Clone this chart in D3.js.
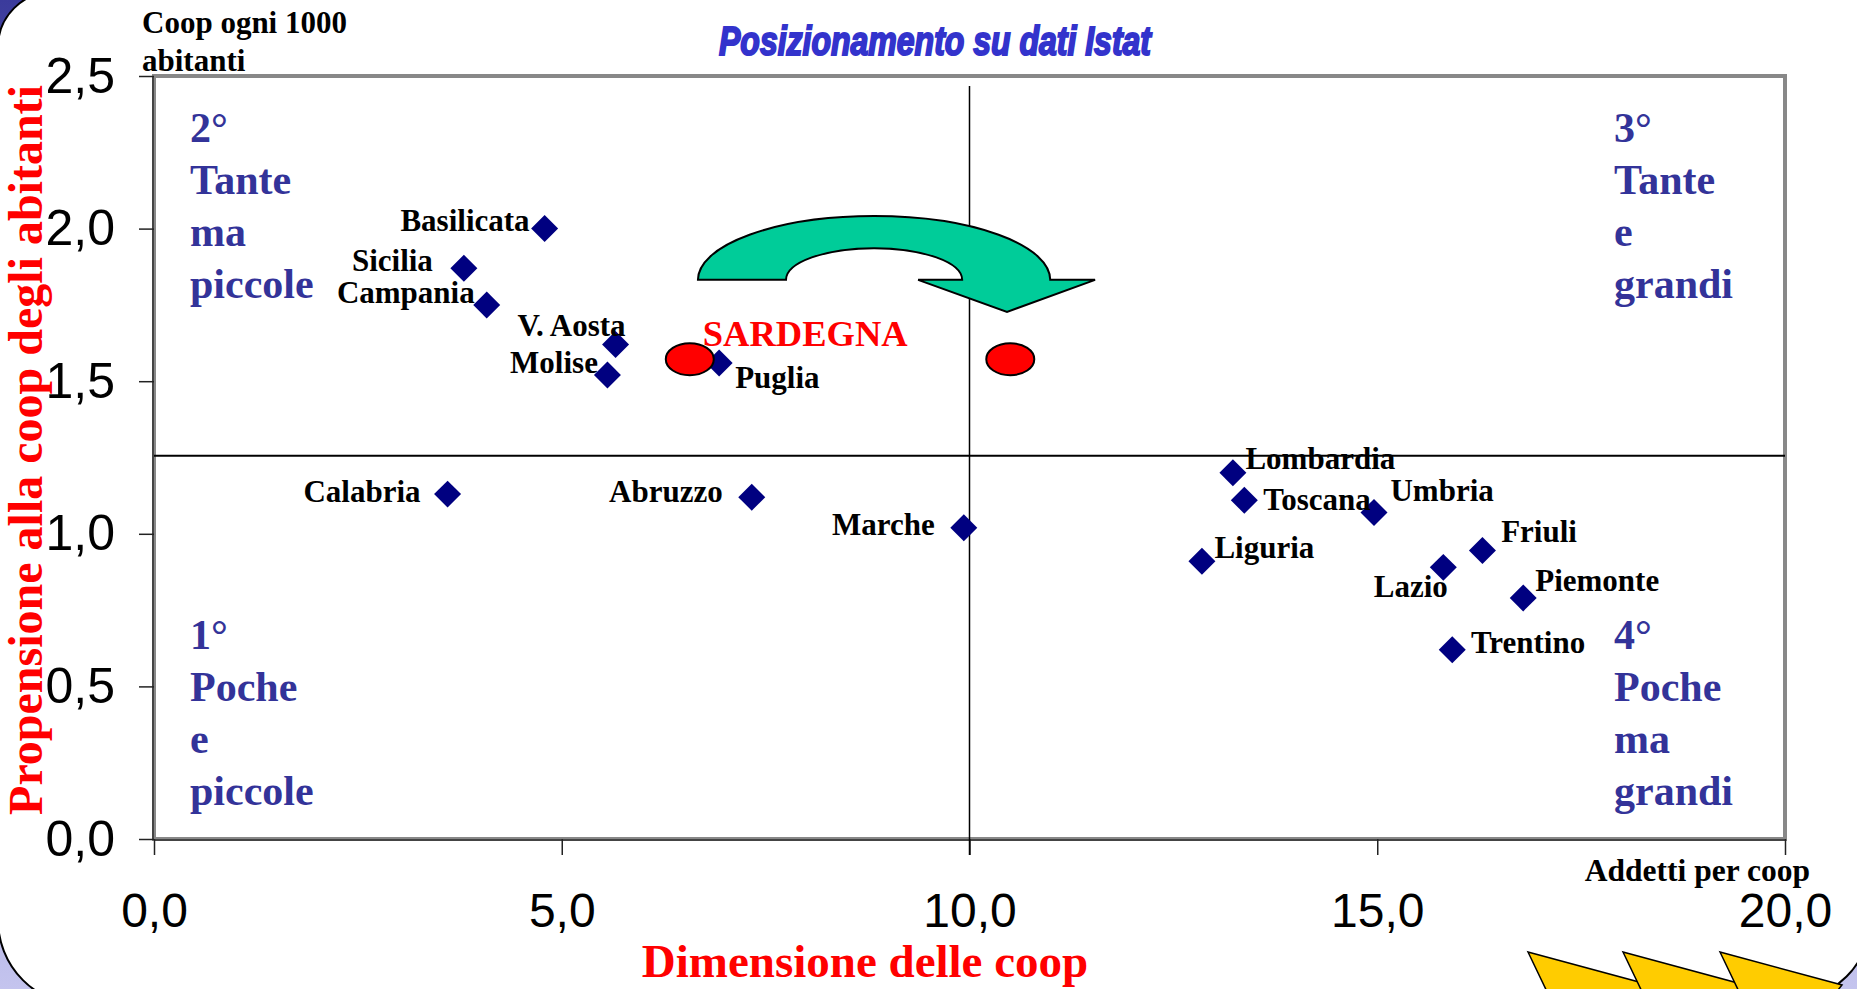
<!DOCTYPE html>
<html><head><meta charset="utf-8">
<script src="https://cdn.jsdelivr.net/npm/d3@7"></script>
<style>body{margin:0;background:#fff;overflow:hidden}</style>
</head><body><svg id="c" width="1857" height="989"></svg>
<script>
// ---- data ----
const regions = ["Basilicata","Sicilia","Campania","V. Aosta","Molise","Puglia","Calabria","Abruzzo","Marche","Lombardia","Toscana","Umbria","Liguria","Lazio","Friuli","Piemonte","Trentino"];
const addettiPerCoop = [4.79,3.80,4.08,5.66,5.56,6.93,3.60,7.33,9.93,13.23,13.37,14.96,12.85,15.81,16.29,16.79,15.92];
const coopPer1000 = [2.00,1.87,1.75,1.62,1.52,1.56,1.13,1.12,1.02,1.20,1.11,1.07,0.91,0.89,0.945,0.79,0.62];
const xTicks = [0,5,10,15,20];
const yTicks = [0,0.5,1,1.5,2,2.5];
const crossX = 10.0, crossY = 1.256;
const sardegnaNow = [6.57,1.572];
const sardegnaTarget = [10.5,1.572];
const quadrants = [
  {lines:["2°","Tante","ma","piccole"], pos:"tl"},
  {lines:["3°","Tante","e","grandi"], pos:"tr"},
  {lines:["1°","Poche","e","piccole"], pos:"bl"},
  {lines:["4°","Poche","ma","grandi"], pos:"br"}
];
// label placement (layout, not data)
const labelAnchor = ["end","end","end","end","end","start","end","end","end","start","start","start","start","end","start","start","start"];
const labelDx = [-15,-31,-12,10,-9.5,16,-27,-29,-29,12.5,19,16.5,12.5,4.5,18.7,12,18.7];
const labelDy = [2,3,-2,-9,-2,25,8,5,7,-4,10,-11,-3,30,-9,-7,3];

const svg = d3.select("#c");
const W = 1857, H = 989;
const L = 154, R = 1785, T = 76, B = 839;
const x = d3.scaleLinear().domain([0,20]).range([L,R]);
const y = d3.scaleLinear().domain([0,2.5]).range([B,T]);

// ---- slide background ----
const defs = svg.append("defs");
const g1 = defs.append("linearGradient").attr("id","bg").attr("x1",0).attr("y1",0).attr("x2",0).attr("y2",1);
g1.append("stop").attr("offset","0%").attr("stop-color","#3b3b9c");
g1.append("stop").attr("offset","100%").attr("stop-color","#c4c4ee");
svg.append("rect").attr("width",W).attr("height",H).attr("fill","url(#bg)");
svg.append("path")
  .attr("d","M -2,47 A 55 55 0 0 1 53,-8 L 1880,-8 L 1870,920 A 80 80 0 0 1 1790,1000 L 83,1005 A 85 85 0 0 1 -2,920 Z")
  .attr("fill","#fff").attr("stroke","#000").attr("stroke-width",2);

// ---- plot frame ----
svg.append("rect").attr("x",L).attr("y",T).attr("width",R-L).attr("height",B-T)
  .attr("fill","#fff").attr("stroke","#888").attr("stroke-width",4);
svg.append("line").attr("x1",L-1).attr("x2",L-1).attr("y1",T).attr("y2",B)
  .attr("stroke","#444").attr("stroke-width",2);
svg.append("line").attr("x1",L).attr("x2",R).attr("y1",B+1).attr("y2",B+1)
  .attr("stroke","#444").attr("stroke-width",2);

// ---- axes ----
const fmt = d => d3.format(".1f")(d).replace(".",",");
const ya = svg.append("g").attr("transform",`translate(${L},0)`)
  .call(d3.axisLeft(y).tickValues(yTicks).tickSize(15).tickPadding(24).tickFormat(fmt));
const xa = svg.append("g").attr("transform",`translate(0,${B})`)
  .call(d3.axisBottom(x).tickValues(xTicks).tickSize(16).tickPadding(38).tickFormat(fmt));
[ya,xa].forEach(a=>{
  a.select(".domain").remove();
  a.selectAll(".tick line").attr("stroke","#222").attr("stroke-width",1.5);
  a.selectAll(".tick text").attr("fill","#000").attr("font-family","Liberation Sans, Arial, sans-serif");
});
ya.selectAll(".tick text").attr("font-size",50);
xa.selectAll(".tick text").attr("font-size",48);

// ---- crosshair ----
svg.append("line").attr("x1",x(0)).attr("x2",x(20)).attr("y1",y(crossY)).attr("y2",y(crossY))
  .attr("stroke","#000").attr("stroke-width",2);
svg.append("line").attr("x1",x(crossX)).attr("x2",x(crossX)).attr("y1",T+10).attr("y2",B+16)
  .attr("stroke","#000").attr("stroke-width",1.5);

// ---- quadrant labels ----
const qx = {tl:190, tr:1614, bl:190, br:1614};
const qy = {tl:142, tr:142, bl:649, br:649};
quadrants.forEach(q=>{
  const t = svg.append("text").attr("x",qx[q.pos]).attr("y",qy[q.pos])
    .attr("font-family","Liberation Serif, Times New Roman, serif").attr("font-weight","bold")
    .attr("font-size",42).attr("fill","#333399");
  q.lines.forEach((s,i)=>t.append("tspan").attr("x",qx[q.pos]).attr("dy",i?52:0).text(s));
});

// ---- green curved arrow (annotation in data units) ----
const ao = {x0:6.67, x1:10.99, base:1.832, top:2.041};
const ai = {x0:7.75, x1:9.91, top:1.936};
const ah = {l:9.37, r:11.54, tipx:10.46, tipy:1.727};
const orx = (x(ao.x1)-x(ao.x0))/2, ory = y(ao.base)-y(ao.top);
const irx = (x(ai.x1)-x(ai.x0))/2, iry = y(ao.base)-y(ai.top);
const arrowD = `M ${x(ao.x0)},${y(ao.base)} A ${orx} ${ory} 0 0 1 ${x(ao.x1)},${y(ao.base)}
  L ${x(ah.r)},${y(ao.base)} L ${x(ah.tipx)},${y(ah.tipy)} L ${x(ah.l)},${y(ao.base)}
  L ${x(ai.x1)},${y(ao.base)} A ${irx} ${iry} 0 0 0 ${x(ai.x0)},${y(ao.base)} Z`;
svg.append("path").attr("d",arrowD).attr("fill","#00CC99").attr("stroke","#000").attr("stroke-width",2);

// ---- points ----
const pts = regions.map((r,i)=>({r, x:addettiPerCoop[i], y:coopPer1000[i], i}));
const sym = d3.symbol().type(d3.symbolSquare).size(364);
svg.append("g").selectAll("path").data(pts).join("path")
  .attr("d",sym()).attr("transform",d=>`translate(${x(d.x)},${y(d.y)}) rotate(45)`)
  .attr("fill","#000080");
svg.append("g").selectAll("text").data(pts).join("text")
  .attr("x",d=>x(d.x)+labelDx[d.i]).attr("y",d=>y(d.y)+labelDy[d.i])
  .attr("text-anchor",d=>labelAnchor[d.i])
  .attr("font-family","Liberation Serif, Times New Roman, serif").attr("font-weight","bold")
  .attr("font-size",31).attr("fill","#000").text(d=>d.r);

// ---- Sardegna ellipses ----
[sardegnaNow, sardegnaTarget].forEach(p=>{
  svg.append("ellipse").attr("cx",x(p[0])).attr("cy",y(p[1])).attr("rx",24).attr("ry",16)
    .attr("fill","#FF0000").attr("stroke","#000").attr("stroke-width",2);
});
svg.append("text").attr("x",x(sardegnaNow[0])+13).attr("y",y(sardegnaNow[1])-13)
  .attr("font-family","Liberation Serif, Times New Roman, serif").attr("font-weight","bold")
  .attr("font-size",36.5).attr("fill","#FF0000").text("SARDEGNA");

// ---- titles ----
svg.append("text").attr("x",935).attr("y",55).attr("text-anchor","middle")
  .attr("font-family","Liberation Sans Narrow, Liberation Sans, Arial, sans-serif")
  .attr("font-weight","bold").attr("font-style","italic").attr("font-size",40)
  .attr("fill","#3333CC").attr("stroke","#3333CC").attr("stroke-width",2)
  .attr("textLength",432).attr("lengthAdjust","spacingAndGlyphs")
  .text("Posizionamento su dati Istat");
const t2 = svg.append("text").attr("font-family","Liberation Serif, Times New Roman, serif")
  .attr("font-weight","bold").attr("font-size",31).attr("fill","#000");
t2.append("tspan").attr("x",142).attr("y",33).text("Coop ogni 1000");
t2.append("tspan").attr("x",142).attr("y",71).text("abitanti");
svg.append("text").attr("x",1810).attr("y",881).attr("text-anchor","end")
  .attr("font-family","Liberation Serif, Times New Roman, serif").attr("font-weight","bold")
  .attr("font-size",31.5).attr("fill","#000").text("Addetti per coop");
svg.append("text").attr("x",865).attr("y",977).attr("text-anchor","middle")
  .attr("font-family","Liberation Serif, Times New Roman, serif").attr("font-weight","bold")
  .attr("font-size",47).attr("fill","#FF0000").text("Dimensione delle coop");
svg.append("text").attr("transform","translate(42,450) rotate(-90)").attr("text-anchor","middle")
  .attr("font-family","Liberation Serif, Times New Roman, serif").attr("font-weight","bold")
  .attr("font-size",48).attr("fill","#FF0000").text("Propensione alla coop degli abitanti");

// ---- yellow chevrons ----
[1528,1623,1720].forEach(x0=>{
  svg.append("polygon")
    .attr("points",`${x0},952 ${x0+122},985 ${x0+110},1000 ${x0+23},1000`)
    .attr("fill","#FFCC00").attr("stroke","#000").attr("stroke-width",1.5);
});
</script></body></html>
